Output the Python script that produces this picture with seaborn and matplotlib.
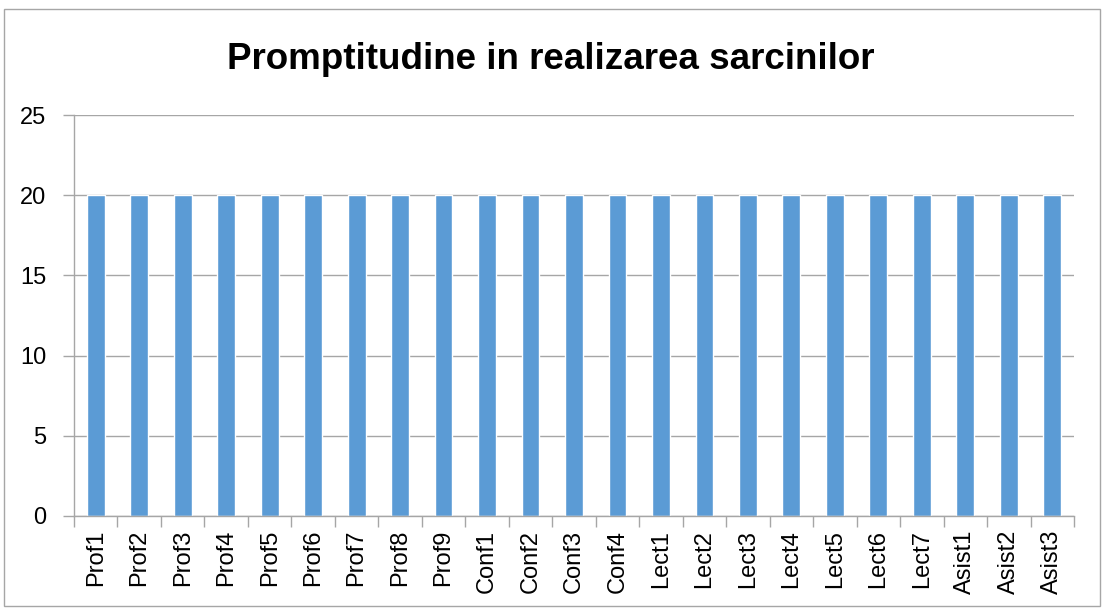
import matplotlib
matplotlib.use("Agg")
import matplotlib.pyplot as plt
import seaborn as sns
import pandas as pd
from matplotlib.patches import Rectangle

categories = ["Prof1", "Prof2", "Prof3", "Prof4", "Prof5", "Prof6", "Prof7", "Prof8", "Prof9",
              "Conf1", "Conf2", "Conf3", "Conf4",
              "Lect1", "Lect2", "Lect3", "Lect4", "Lect5", "Lect6", "Lect7",
              "Asist1", "Asist2", "Asist3"]
values = [20] * 23
title = "Promptitudine in realizarea sarcinilor"
yticks = [0, 5, 10, 15, 20, 25]

df = pd.DataFrame({"cat": categories, "val": values})

sns.set_style("white")
plt.rcParams["font.family"] = ["Liberation Sans", "DejaVu Sans"]
plt.rcParams["text.color"] = "black"
plt.rcParams["xtick.labelcolor"] = "black"
plt.rcParams["ytick.labelcolor"] = "black"

fig = plt.figure(figsize=(11.02, 6.08), dpi=100)
ax = fig.add_axes([74 / 1102, 92 / 608, 1000 / 1102, 401 / 608])

sns.barplot(data=df, x="cat", y="val", color="#5B9BD5", saturation=1, width=0.41, ax=ax)

ax.set_xlim(-0.5, len(categories) - 0.5)
ax.set_ylim(0, 25)
ax.set_yticks(yticks)
ax.set_yticklabels([str(t) for t in yticks], fontsize=17)
ax.yaxis.grid(True, color="#A6A6A6", linewidth=1)
ax.set_axisbelow(True)
ax.tick_params(axis="y", length=8, color="#A6A6A6", width=1, pad=12, left=True)
ax.set_xticks(range(len(categories)))
ax.set_xticklabels(categories, rotation=90, fontsize=17)
ax.tick_params(axis="x", length=0, pad=10)
# boundary ticks between categories
ax.set_xticks([i - 0.5 for i in range(len(categories) + 1)], minor=True)
ax.tick_params(axis="x", which="minor", length=8, color="#A6A6A6", width=1, bottom=True)
ax.set_xlabel("")
ax.set_ylabel("")

for side in ["top", "right"]:
    ax.spines[side].set_visible(False)
for side in ["left", "bottom"]:
    ax.spines[side].set_color("#A6A6A6")
    ax.spines[side].set_linewidth(1)

fig.text(0.5, 1 - 69 / 608, title, ha="center", va="baseline", fontsize=26.5, fontweight="bold",
         color="black")

fig.patches.append(Rectangle((4 / 1102, 2 / 608), 1096 / 1102, 597 / 608, transform=fig.transFigure,
                             fill=False, edgecolor="#A6A6A6", linewidth=1))

fig.savefig("out.png", dpi=100)
